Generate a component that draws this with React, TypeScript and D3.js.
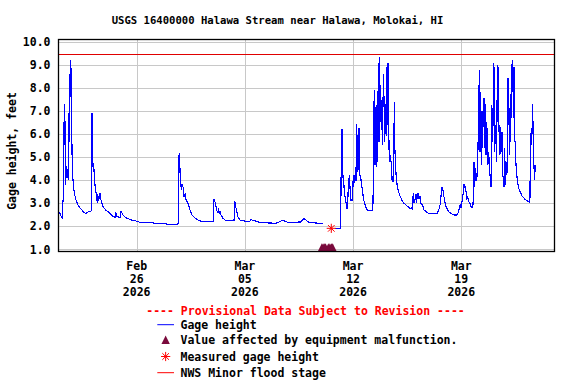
import React from "react";
import * as d3 from "d3";

const title = "USGS 16400000 Halawa Stream near Halawa, Molokai, HI";
const yAxisLabel = "Gage height, feet";
const yTickValues = [1, 2, 3, 4, 5, 6, 7, 8, 9, 10];
// x ticks: days after Feb 21 2026 00:00
const xTickDays = [5, 12, 19, 26];
const xTickMonths = ["Feb", "Mar", "Mar", "Mar"];
const xTickDates = ["26", "05", "12", "19"];
const xTickYears = ["2026", "2026", "2026", "2026"];
const floodStage = 9.5;
const provisionalNote = "---- Provisional Data Subject to Revision ----";
const legendLabels = [
  "Gage height",
  "Value affected by equipment malfunction.",
  "Measured gage height",
  "NWS Minor flood stage",
];

// [days after Feb 21 2026 00:00, gage height ft]
const gageSegment1: [number, number][] = [
  [0.0, 2.61], [0.1, 2.45], [0.17, 2.36], [0.21, 2.36], [0.22, 3.1], [0.27, 3.1], [0.28, 4.1],
  [0.31, 7.12], [0.35, 7.31], [0.38, 4.6], [0.41, 3.8], [0.45, 4.6], [0.49, 4.1], [0.53, 4.5],
  [0.57, 4.0], [0.61, 4.6], [0.64, 8.6], [0.68, 7.5], [0.71, 9.1], [0.74, 9.22], [0.78, 7.15],
  [0.83, 4.66], [0.89, 3.9], [0.96, 3.46], [1.07, 3.14], [1.2, 2.92], [1.33, 2.79], [1.46, 2.7],
  [1.59, 2.59], [1.72, 2.56], [1.85, 2.62], [2.01, 2.64], [2.08, 2.7], [2.11, 6.9], [2.15, 5.6],
  [2.17, 4.58], [2.21, 4.76], [2.28, 3.93], [2.34, 3.6], [2.41, 3.28], [2.45, 3.02], [2.48, 3.4],
  [2.53, 3.1], [2.63, 3.46], [2.69, 3.14], [2.82, 2.85], [3.01, 2.7], [3.27, 2.56], [3.47, 2.41],
  [3.6, 2.4], [3.64, 2.63], [3.73, 2.41], [3.92, 2.39], [3.99, 2.66], [4.11, 2.49], [4.31, 2.37],
  [4.56, 2.3], [4.76, 2.24], [4.96, 2.23], [5.21, 2.17], [5.86, 2.17], [6.18, 2.13], [6.9, 2.13],
  [6.96, 2.08], [7.66, 2.08], [7.69, 2.15], [7.72, 5.02], [7.76, 5.17], [7.78, 4.3], [7.82, 4.52],
  [7.87, 3.72], [7.91, 3.57], [7.95, 3.83], [8.0, 3.7], [8.06, 3.28], [8.13, 3.4], [8.19, 3.17],
  [8.32, 3.0], [8.45, 2.7], [8.58, 2.49], [8.78, 2.35], [8.97, 2.27], [9.1, 2.23], [9.48, 2.2],
  [9.98, 2.2], [10.0, 3.17], [10.07, 3.05], [10.13, 2.88], [10.23, 2.56], [10.29, 2.7],
  [10.34, 2.56], [10.39, 2.63], [10.45, 2.49], [10.58, 2.35], [10.78, 2.24], [11.3, 2.24],
  [11.32, 3.11], [11.36, 3.02], [11.43, 2.78], [11.55, 2.41], [11.68, 2.27], [12.01, 2.22],
  [12.33, 2.22], [12.4, 2.3], [12.53, 2.24], [12.78, 2.22], [12.98, 2.16], [14.01, 2.13],
  [14.14, 2.16], [14.47, 2.27], [14.6, 2.22], [14.73, 2.18], [15.37, 2.16], [15.5, 2.2],
  [15.57, 2.16], [15.82, 2.35], [15.95, 2.27], [16.08, 2.19], [16.34, 2.16], [16.79, 2.13],
  [17.05, 2.1],
];

const gageSegment2: [number, number][] = [
  [17.85, 1.91], [18.17, 1.91], [18.2, 2.1], [18.24, 5.38], [18.28, 6.21], [18.33, 4.08],
  [18.38, 4.2], [18.43, 3.5], [18.52, 3.14], [18.59, 2.78], [18.64, 2.78], [18.69, 3.72],
  [18.76, 4.22], [18.8, 3.72], [18.84, 3.14], [18.97, 3.14], [19.01, 4.22], [19.08, 3.9],
  [19.12, 4.22], [19.19, 3.95], [19.21, 6.43], [19.25, 5.96], [19.27, 4.37], [19.32, 5.02],
  [19.36, 4.44], [19.38, 6.25], [19.43, 4.22], [19.49, 4.15], [19.56, 3.72], [19.62, 3.57],
  [19.66, 3.21], [19.75, 3.0], [19.84, 2.81], [19.92, 2.7], [20.24, 2.69], [20.29, 3.0],
  [20.33, 6.1], [20.37, 7.91], [20.42, 4.66], [20.46, 7.19], [20.5, 4.59], [20.55, 7.27],
  [20.59, 4.8], [20.63, 9.1], [20.68, 5.67], [20.72, 9.36], [20.76, 6.54], [20.81, 6.97],
  [20.85, 7.46], [20.89, 5.53], [20.94, 7.5], [20.96, 8.6], [21.0, 7.55], [21.05, 5.67],
  [21.09, 7.3], [21.14, 5.9], [21.18, 8.93], [21.21, 6.4], [21.26, 9.07], [21.3, 6.68],
  [21.34, 4.8], [21.4, 5.1], [21.47, 4.73], [21.51, 4.01], [21.58, 3.95], [21.63, 5.24],
  [21.67, 7.41], [21.71, 5.24], [21.76, 4.45], [21.8, 4.08], [21.86, 3.72], [21.92, 3.57],
  [21.99, 3.39], [22.08, 3.25], [22.18, 3.1], [22.29, 3.0], [22.42, 2.93], [22.55, 2.85],
  [22.68, 2.78], [22.81, 2.75], [22.86, 3.18], [22.9, 3.43], [22.94, 3.0], [22.99, 3.1],
  [23.03, 3.28], [23.07, 3.39], [23.11, 3.0], [23.15, 3.39], [23.2, 3.43], [23.26, 3.21],
  [23.33, 3.28], [23.39, 3.0], [23.5, 2.93], [23.59, 2.7], [23.72, 2.64], [23.85, 2.57],
  [23.98, 2.54], [24.43, 2.54], [24.5, 2.64], [24.58, 2.78], [24.65, 3.0], [24.71, 3.5],
  [24.76, 3.72], [24.8, 3.62], [24.84, 3.43], [24.9, 3.21], [24.97, 2.93], [25.06, 2.78],
  [25.14, 2.68], [25.22, 2.61], [25.35, 2.55], [25.53, 2.49], [25.7, 2.49], [25.79, 2.57],
  [25.87, 2.78], [25.94, 2.97], [25.98, 2.78], [26.03, 3.0], [26.09, 3.28], [26.13, 3.43],
  [26.18, 3.82], [26.22, 3.65], [26.26, 3.75], [26.31, 3.5], [26.35, 3.21], [26.41, 3.28],
  [26.48, 3.07], [26.56, 3.0], [26.65, 2.81], [26.74, 2.81], [26.78, 3.18], [26.82, 4.8],
  [26.87, 3.72], [26.91, 4.51], [26.95, 3.95], [27.0, 4.3], [27.04, 4.15], [27.08, 5.38],
  [27.13, 7.26], [27.17, 8.78], [27.21, 5.24], [27.25, 7.84], [27.29, 4.66], [27.34, 7.0],
  [27.38, 5.38], [27.42, 7.1], [27.47, 7.55], [27.51, 5.38], [27.55, 7.3], [27.6, 5.1],
  [27.64, 6.54], [27.68, 5.96], [27.72, 4.66], [27.77, 5.24], [27.81, 4.8], [27.85, 4.3],
  [27.92, 3.72], [27.96, 3.72], [27.98, 7.26], [28.03, 5.67], [28.07, 7.19], [28.11, 9.07],
  [28.16, 5.24], [28.2, 5.96], [28.24, 6.4], [28.29, 4.8], [28.33, 8.78], [28.37, 9.0],
  [28.42, 6.1], [28.46, 6.4], [28.5, 5.1], [28.55, 6.3], [28.59, 5.24], [28.63, 6.1],
  [28.68, 4.3], [28.72, 4.01], [28.76, 3.72], [28.81, 5.38], [28.85, 3.8], [28.89, 4.8],
  [28.94, 4.22], [28.98, 4.51], [29.02, 8.42], [29.07, 8.13], [29.11, 5.1], [29.15, 5.67],
  [29.2, 7.76], [29.24, 6.68], [29.28, 9.0], [29.33, 9.22], [29.37, 6.68], [29.41, 8.9],
  [29.46, 5.67], [29.5, 5.67], [29.54, 4.66], [29.59, 4.22], [29.63, 4.01], [29.69, 3.72],
  [29.76, 3.57], [29.85, 3.43], [29.93, 3.32], [30.02, 3.25], [30.11, 3.18], [30.24, 3.11],
  [30.33, 3.07], [30.44, 3.04], [30.48, 6.03], [30.53, 5.53], [30.57, 5.96], [30.62, 7.29],
  [30.66, 5.38], [30.7, 4.66], [30.74, 4.01], [30.78, 4.66], [30.83, 4.37],
];

// equipment malfunction flags (days), plotted at the axis floor
const malfunctionDays = [16.98, 17.06, 17.14, 17.22, 17.4, 17.5, 17.6, 17.68];
const malfunctionValue = 1.0;
// field measurement
const measuredDays = [17.59];
const measuredValues = [1.91];

const W = 576;
const H = 384;
const FONT = "'DejaVu Sans Mono', 'Liberation Mono', monospace";
const DAY = 86400000;
const base = Date.UTC(2026, 1, 21);
const toDate = (d: number) => new Date(base + d * DAY);

const plotLeft = 58.5;
const plotRight = 554.5;
const plotTop = 39.5;
const plotBottom = 251.5;

export default function App() {
  const x = d3
    .scaleUtc()
    .domain([toDate(-0.071), toDate(32.018)])
    .range([58.3, 554.3]);
  const y = d3.scaleLinear().domain([1, 10]).range([249.3, 42]);

  const line = d3
    .line<[number, number]>()
    .x((d) => x(toDate(d[0])))
    .y((d) => y(d[1]))
    .curve(d3.curveLinear);

  const tri = (cx: number, cy: number) =>
    `M${cx - 4.2},${cy + 2.4} L${cx},${cy - 6} L${cx + 4.2},${cy + 2.4} Z`;

  const star = (cx: number, cy: number, r: number) => {
    const a = r * 0.72;
    return `M${cx - r},${cy} L${cx + r},${cy} M${cx},${cy - r} L${cx},${cy + r} M${cx - a},${cy - a} L${cx + a},${cy + a} M${cx - a},${cy + a} L${cx + a},${cy - a}`;
  };

  const textStyle = {
    fontFamily: FONT,
    fontWeight: "bold" as const,
  };

  const legendX0 = 157.3;
  const legendX1 = 174;
  const legendTextX = 180.5;
  const legendRowsY = [324.7, 340, 356.5, 372.7];

  return (
    <svg
      width={W}
      height={H}
      style={{ position: "absolute", left: 0, top: 0, background: "#fff" }}
    >
      <rect x={0} y={0} width={W} height={H} fill="#fff" />
      <text
        x={277.5}
        y={24}
        textAnchor="middle"
        fontSize={10.6}
        style={textStyle}
        fill="#000"
      >
        {title}
      </text>

      {/* grid */}
      <g stroke="#c8c8c8" strokeWidth={1}>
        {yTickValues.map((v) => (
          <line
            key={"gy" + v}
            x1={plotLeft}
            x2={plotRight}
            y1={Math.round(y(v)) + 0.5}
            y2={Math.round(y(v)) + 0.5}
          />
        ))}
        {xTickDays.map((d) => (
          <line
            key={"gx" + d}
            x1={Math.round(x(toDate(d))) + 0.5}
            x2={Math.round(x(toDate(d))) + 0.5}
            y1={plotTop}
            y2={plotBottom}
          />
        ))}
      </g>

      {/* flood stage */}
      <line
        x1={plotLeft}
        x2={plotRight}
        y1={Math.round(y(floodStage)) + 0.5}
        y2={Math.round(y(floodStage)) + 0.5}
        stroke="#e00000"
        strokeWidth={1}
      />

      {/* series */}
      <path
        d={line(gageSegment1) || ""}
        fill="none"
        stroke="#0000ff"
        strokeWidth={1.15}
        shapeRendering="crispEdges"
      />
      <path
        d={line(gageSegment2) || ""}
        fill="none"
        stroke="#0000ff"
        strokeWidth={1.15}
        shapeRendering="crispEdges"
      />

      {/* malfunction markers */}
      <g fill="#7a0a3c">
        {malfunctionDays.map((d, i) => (
          <path key={"m" + i} d={tri(x(toDate(d)), y(malfunctionValue))} />
        ))}
      </g>

      {/* measured */}
      {measuredDays.map((d, i) => (
        <path
          key={"s" + i}
          d={star(x(toDate(d)), y(measuredValues[i]), 4.6)}
          stroke="#ff0000"
          strokeWidth={1}
          fill="none"
        />
      ))}

      {/* frame */}
      <rect
        x={plotLeft}
        y={plotTop}
        width={plotRight - plotLeft}
        height={plotBottom - plotTop}
        fill="none"
        stroke="#000"
        strokeWidth={1.3}
      />

      {/* y ticks */}
      {yTickValues.map((v) => (
        <text
          key={"yt" + v}
          x={50.5}
          y={y(v) + 4.2}
          textAnchor="end"
          fontSize={11.5}
          style={textStyle}
          fill="#000"
        >
          {v.toFixed(1)}
        </text>
      ))}

      <text
        transform={`translate(15.5, ${151}) rotate(-90)`}
        textAnchor="middle"
        fontSize={11.5}
        style={textStyle}
        fill="#000"
      >
        {yAxisLabel}
      </text>

      {/* x ticks */}
      {xTickDays.map((d, i) => {
        const cx = x(toDate(d));
        return (
          <g key={"xt" + d}>
            <text x={cx} y={270} textAnchor="middle" fontSize={11.5} style={textStyle} fill="#000">
              {xTickMonths[i]}
            </text>
            <text x={cx} y={283.3} textAnchor="middle" fontSize={11.5} style={textStyle} fill="#000">
              {xTickDates[i]}
            </text>
            <text x={cx} y={296.3} textAnchor="middle" fontSize={11.5} style={textStyle} fill="#000">
              {xTickYears[i]}
            </text>
          </g>
        );
      })}

      {/* legend */}
      <text x={305.5} y={315} textAnchor="middle" fontSize={11.5} style={textStyle} fill="#ff0000">
        {provisionalNote}
      </text>
      <line x1={legendX0} x2={legendX1} y1={legendRowsY[0]} y2={legendRowsY[0]} stroke="#0000ff" strokeWidth={1} />
      <path d={tri((legendX0 + legendX1) / 2, legendRowsY[1] + 1.5)} fill="#7a0a3c" />
      <path
        d={star((legendX0 + legendX1) / 2, legendRowsY[2], 4.6)}
        stroke="#ff0000"
        strokeWidth={1}
        fill="none"
      />
      <line x1={legendX0} x2={legendX1} y1={legendRowsY[3]} y2={legendRowsY[3]} stroke="#ff0000" strokeWidth={1} />
      {legendLabels.map((l, i) => (
        <text
          key={"lg" + i}
          x={legendTextX}
          y={legendRowsY[i] + 4.3}
          fontSize={11.5}
          style={textStyle}
          fill="#000"
        >
          {l}
        </text>
      ))}
    </svg>
  );
}
